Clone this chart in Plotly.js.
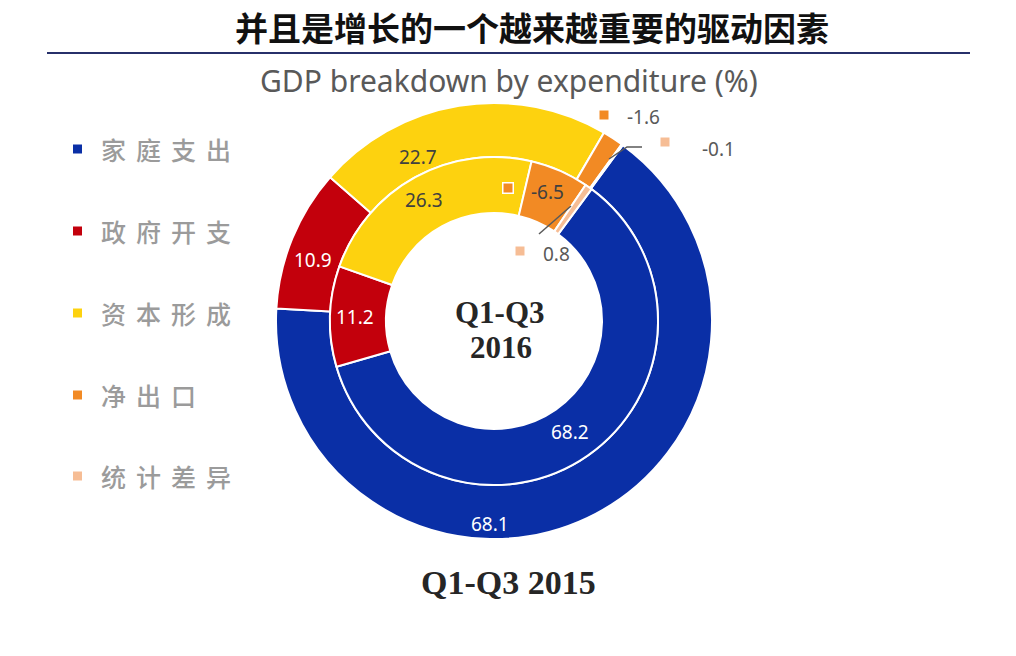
<!DOCTYPE html>
<html>
<head>
<meta charset="utf-8">
<script src="https://cdn.plot.ly/plotly-3.0.1.min.js"></script>
<style>html,body{margin:0;padding:0;background:#fff;}#chart{width:1016px;height:656px;}</style>
</head>
<body>
<div id="chart"></div>
<script>
// ---- data ----
const categories = ['家庭支出', '政府开支', '资本形成', '净出口', '统计差异'];
const values2015 = [68.1, 10.9, 22.7, -1.6, -0.1];   // outer ring
const values2016 = [68.2, 11.2, 26.3, -6.5, 0.8];    // inner ring
const chartTitle = '并且是增长的一个越来越重要的驱动因素';
const chartSubtitle = 'GDP breakdown by expenditure (%)';
const outerLabel = 'Q1-Q3 2015';
const innerLabel = ['Q1-Q3', '2016'];

// ---- styles / layout geometry ----
const colors = ['#0a2fa6', '#c3000c', '#fdd20f', '#f28a24', '#f6bd95'];
const W = 1016, H = 656;
const cx = 494, cy = 321, rOut = 218, rMid = 164, rHole = 108;
const px = x => x / W;
const py = y => 1 - y / H;

function dom(r) {
  return { x: [px(cx - r), px(cx + r)], y: [py(cy + r), py(cy - r)] };
}

const outer = {
  type: 'pie', sort: false, direction: 'clockwise', rotation: 36.2,
  labels: categories, values: values2015.map(Math.abs),
  domain: dom(rOut), hole: rMid / rOut,
  marker: { colors: colors, line: { color: '#ffffff', width: 2 } },
  textinfo: 'none', hoverinfo: 'label+text', text: values2015.map(v => v.toFixed(1)),
  showlegend: false
};
const inner = {
  type: 'pie', sort: false, direction: 'clockwise', rotation: 36.5,
  labels: categories, values: values2016.map(Math.abs),
  domain: dom(rMid), hole: rHole / rMid,
  marker: { colors: colors, line: { color: '#ffffff', width: 2 } },
  textinfo: 'none', hoverinfo: 'label+text', text: values2016.map(v => v.toFixed(1)),
  showlegend: false
};

// label placement (pixel positions), [series, index, x, y, textColor, marker?]
const labelSpots = [
  ['o', 0, 490, 524, '#ffffff', null],
  ['i', 0, 570, 432, '#ffffff', null],
  ['o', 1, 313, 260, '#ffffff', null],
  ['i', 1, 355, 317, '#ffffff', null],
  ['o', 2, 418, 157, '#404040', null],
  ['i', 2, 424, 200, '#404040', null],
  ['i', 3, 547, 192, '#404040', [508, 188, 12, true]],
  ['o', 3, 643, 117, '#595959', [604, 115, 9, false]],
  ['o', 4, 718, 149, '#595959', [665, 142, 9, false]],
  ['i', 4, 556, 254, '#595959', [520, 251, 9, false]]
];

const annotations = [];
const shapes = [];

labelSpots.forEach(([s, i, x, y, col, mk]) => {
  const v = (s === 'o' ? values2015 : values2016)[i];
  annotations.push({
    xref: 'paper', yref: 'paper', x: px(x), y: py(y), xanchor: 'center', yanchor: 'middle',
    text: v.toFixed(1), showarrow: false,
    font: { family: 'Noto Sans, sans-serif', size: 19, color: col }
  });
  if (mk) {
    const [mx, my, sz, border] = mk;
    if (border) {
      shapes.push({
        type: 'rect', xref: 'paper', yref: 'paper', layer: 'above',
        x0: px(mx - sz / 2), x1: px(mx + sz / 2), y0: py(my + sz / 2), y1: py(my - sz / 2),
        fillcolor: '#ffffff', line: { width: 0 }
      });
      const s2 = sz / 2 - 1.5;
      shapes.push({
        type: 'rect', xref: 'paper', yref: 'paper', layer: 'above',
        x0: px(mx - s2), x1: px(mx + s2), y0: py(my + s2), y1: py(my - s2),
        fillcolor: colors[i], line: { width: 0 }
      });
    } else {
      shapes.push({
        type: 'rect', xref: 'paper', yref: 'paper', layer: 'above',
        x0: px(mx - sz / 2), x1: px(mx + sz / 2), y0: py(my + sz / 2), y1: py(my - sz / 2),
        fillcolor: colors[i], line: { width: 0 }
      });
    }
  }
});

// leader lines
const leaders = [
  [[609, 159], [627, 147], [642, 147]],
  [[571, 206], [539, 234]]
];
leaders.forEach(pts => {
  let path = pts.map((p, k) => (k ? 'L' : 'M') + px(p[0]) + ',' + py(p[1])).join(' ');
  shapes.push({ type: 'path', xref: 'paper', yref: 'paper', path: path, line: { color: '#5a5a5a', width: 1.5 } });
});

// title underline
shapes.push({ type: 'line', xref: 'paper', yref: 'paper', x0: px(47), x1: px(970), y0: py(53), y1: py(53),
  line: { color: '#27306a', width: 2 } });

// manual legend
const legendY = [149, 231, 313, 395, 476];
categories.forEach((c, i) => {
  shapes.push({ type: 'rect', xref: 'paper', yref: 'paper',
    x0: px(73), x1: px(82), y0: py(legendY[i] + 4.5), y1: py(legendY[i] - 4.5),
    fillcolor: colors[i], line: { width: 0 } });
  annotations.push({
    xref: 'paper', yref: 'paper', x: px(99), y: py(legendY[i]), xanchor: 'left', yanchor: 'middle',
    text: c.split('').join('\u2009\u2009'), showarrow: false,
    font: { family: 'Noto Sans CJK SC, sans-serif', size: 25, color: '#9b9b9b', weight: 500 }
  });
});

// subtitle
annotations.push({ xref: 'paper', yref: 'paper', x: px(509), y: py(80), xanchor: 'center', yanchor: 'middle',
  text: chartSubtitle, showarrow: false, font: { family: 'Noto Sans, sans-serif', size: 30, color: '#595959' } });

// center text and bottom label
annotations.push({ xref: 'paper', yref: 'paper', x: px(500), y: py(313), xanchor: 'center', yanchor: 'middle',
  text: '<b>' + innerLabel[0] + '</b>', showarrow: false,
  font: { family: 'Liberation Serif, serif', size: 31, color: '#262626' } });
annotations.push({ xref: 'paper', yref: 'paper', x: px(501), y: py(347), xanchor: 'center', yanchor: 'middle',
  text: '<b>' + innerLabel[1] + '</b>', showarrow: false,
  font: { family: 'Liberation Serif, serif', size: 31, color: '#262626' } });
annotations.push({ xref: 'paper', yref: 'paper', x: px(508), y: py(582), xanchor: 'center', yanchor: 'middle',
  text: '<b>' + outerLabel + '</b>', showarrow: false,
  font: { family: 'Liberation Serif, serif', size: 34, color: '#262626' } });

const layout = {
  width: W, height: H,
  margin: { l: 0, r: 0, t: 0, b: 0 },
  paper_bgcolor: '#ffffff',
  showlegend: false,
  title: {
    text: '<b>' + chartTitle + '</b>', x: px(532), xanchor: 'center', y: py(29), yanchor: 'middle',
    font: { family: 'Noto Sans CJK SC, sans-serif', size: 33, color: '#111111' }
  },
  annotations: annotations,
  shapes: shapes
};

Plotly.newPlot('chart', [outer, inner], layout, { displayModeBar: false, staticPlot: true });
</script>
</body>
</html>
